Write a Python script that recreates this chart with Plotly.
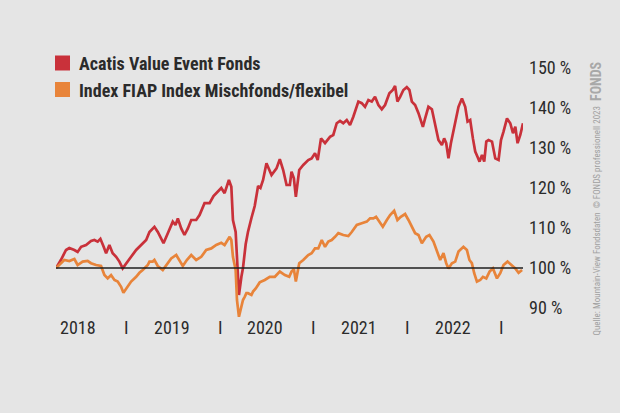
import datetime as dt
import plotly.graph_objects as go

# ---- data (time as decimal years, values in % of start) ----
fund_t = [2018.248, 2018.30, 2018.355, 2018.39, 2018.444, 2018.479, 2018.516, 2018.569, 2018.622, 2018.658,
          2018.693, 2018.722, 2018.757, 2018.783, 2018.818, 2018.853, 2018.89, 2018.925, 2018.96, 2018.997,
          2019.05, 2019.104, 2019.139, 2019.174, 2019.211, 2019.246, 2019.299, 2019.335, 2019.396, 2019.442,
          2019.495, 2019.524, 2019.549, 2019.585, 2019.62, 2019.656, 2019.692, 2019.745, 2019.781, 2019.834,
          2019.888, 2019.93, 2019.976, 2020.013, 2020.048, 2020.094, 2020.12, 2020.137, 2020.166, 2020.19,
          2020.201, 2020.227, 2020.244, 2020.273, 2020.297, 2020.334, 2020.369, 2020.405, 2020.43,
          2020.458, 2020.494, 2020.548, 2020.601, 2020.636, 2020.672, 2020.708, 2020.743, 2020.761, 2020.786,
          2020.807, 2020.843, 2020.886, 2020.939, 2020.975, 2021.011, 2021.04, 2021.075, 2021.118, 2021.171,
          2021.206, 2021.243, 2021.278, 2021.313, 2021.35, 2021.385, 2021.42, 2021.474, 2021.51, 2021.545,
          2021.581, 2021.617, 2021.652, 2021.688, 2021.724, 2021.759, 2021.805, 2021.842, 2021.866, 2021.891,
          2021.92, 2021.955, 2021.991, 2022.019, 2022.045, 2022.08, 2022.116, 2022.163, 2022.187, 2022.222,
          2022.259, 2022.294, 2022.329, 2022.366, 2022.39, 2022.412, 2022.436, 2022.462, 2022.49, 2022.508,
          2022.543, 2022.58, 2022.615, 2022.64, 2022.668, 2022.697, 2022.722, 2022.746, 2022.768, 2022.794,
          2022.818, 2022.84, 2022.864, 2022.901, 2022.936, 2022.971, 2022.997, 2023.024, 2023.061, 2023.096,
          2023.125, 2023.15, 2023.174, 2023.203, 2023.232]
fund_v = [100, 102, 104.5, 105, 104.5, 104, 105.3, 105.75, 106.75, 107,
          106.6, 107.3, 105.3, 103.7, 105.75, 103.7, 102.8, 101.6, 99.9, 101.2,
          102.8, 104.5, 105.25, 106.2, 107, 109, 110.3, 109, 106.2, 108.7,
          111.6, 110.75, 112.4, 109.9, 108.25, 109.9, 112, 112, 113.25, 116.2,
          116.2, 118, 119.1, 120, 118.7, 122, 120.3, 112, 109, 99.5,
          93.25, 97.8, 100, 106, 109, 112.5, 115.5, 120.5, 120,
          122, 126.2, 123.25, 124.9, 127.2, 124.5, 120.75, 120.75, 124.1, 122.4,
          117.8, 124.5, 125.75, 127, 127.4, 128.7, 127, 132.4, 131.2, 132.8,
          133.25, 136.2, 136.8, 136.2, 137, 135.75, 137.8, 141.6, 141.2, 140.3,
          142, 141.6, 142.8, 140.75, 139.7, 140.75, 143.7, 144.5, 145.5, 141.6,
          142.8, 144.5, 145.2, 144.5, 141.6, 140.75, 138.7, 135.3, 137.4, 140.3,
          139.7, 135.75, 132, 130.75, 132.4, 131.2, 127.4, 131.2, 134.5, 136.6,
          140.3, 142.4, 140.3, 136.6, 137, 132.4, 129.1, 127.8, 126.6, 128.25,
          126.6, 131.6, 132, 131.6, 127.4, 127, 132, 134.1, 137.4, 136.2,
          133.7, 135.3, 131.2, 133.25, 136.2]

index_t = [2018.248, 2018.30, 2018.337, 2018.39, 2018.444, 2018.479, 2018.533, 2018.586, 2018.622, 2018.676,
           2018.729, 2018.765, 2018.80, 2018.836, 2018.872, 2018.907, 2018.943, 2018.968, 2019.003, 2019.05,
           2019.104, 2019.139, 2019.174, 2019.228, 2019.246, 2019.281, 2019.299, 2019.335, 2019.388, 2019.43,
           2019.478, 2019.532, 2019.567, 2019.602, 2019.645, 2019.692, 2019.745, 2019.799, 2019.852, 2019.906,
           2019.959, 2020.013, 2020.048, 2020.102, 2020.12, 2020.137, 2020.166, 2020.18, 2020.201, 2020.227,
           2020.244, 2020.262, 2020.28, 2020.297, 2020.334, 2020.351, 2020.38, 2020.422, 2020.476, 2020.529,
           2020.583, 2020.636, 2020.69, 2020.736, 2020.761, 2020.786, 2020.807, 2020.843, 2020.886, 2020.939,
           2020.975, 2021.011, 2021.046, 2021.083, 2021.118, 2021.153, 2021.189, 2021.225, 2021.26, 2021.313,
           2021.367, 2021.403, 2021.457, 2021.51, 2021.564, 2021.599, 2021.634, 2021.663, 2021.698, 2021.735,
           2021.778, 2021.813, 2021.856, 2021.891, 2021.927, 2021.973, 2022.009, 2022.045, 2022.08, 2022.116,
           2022.152, 2022.198, 2022.233, 2022.276, 2022.312, 2022.348, 2022.383, 2022.412, 2022.436, 2022.473,
           2022.508, 2022.543, 2022.596, 2022.633, 2022.66, 2022.686, 2022.711, 2022.74, 2022.775, 2022.804,
           2022.84, 2022.875, 2022.911, 2022.954, 2022.989, 2023.024, 2023.067, 2023.114, 2023.15, 2023.185,
           2023.222]
index_v = [100, 101.2, 102, 101.75, 102.25, 100.75, 101.6, 101.8, 101.2, 100.75,
           100.5, 98.25, 97.4, 98.25, 97, 96.6, 95.3, 93.8, 94.9, 96.6,
           97.8, 98.8, 99.5, 100.75, 101.6, 101.6, 102, 100.5, 99.5, 100.75,
           102.4, 103.25, 102, 100.5, 102, 103.25, 102, 102.8, 104.5, 104.9,
           105.75, 106.3, 105.75, 107.8, 107, 102.8, 99.5, 92, 87.8, 90.3,
           92, 92.8, 93.7, 93.7, 93.25, 94.1, 94.9, 96.4, 97, 97.8,
           97.8, 99.1, 98.25, 97.8, 99.1, 99.7, 96.6, 101.2, 102, 103.25,
           103.7, 104.9, 104.9, 107, 105.3, 106.6, 107, 107.8, 108.7, 108.25,
           108, 109, 110.75, 111.2, 111.6, 112.4, 112.4, 112.8, 111.6, 110.3,
           112, 113.25, 114.3, 112, 112.8, 113.5, 112, 110.3, 108.7, 108.25,
           106.2, 107.8, 108.25, 106.6, 104.5, 102, 103.7, 101.2, 99.9, 101.2,
           101.6, 104.1, 105.3, 104.5, 102, 101.2, 98.7, 96.6, 97, 97.8,
           97.4, 99.1, 99.9, 97.4, 98.7, 100.75, 101.6, 100.75, 99.9, 98.8,
           99.5]

series_names = ["Acatis Value Event Fonds", "Index FIAP Index Mischfonds/flexibel"]
series_colors = ["#c9313a", "#e8843a"]
y_ticks = [90, 100, 110, 120, 130, 140, 150]
years = [2018, 2019, 2020, 2021, 2022]
separators = [2019, 2020, 2021, 2022, 2023]
source_text = "Quelle: Mountain-View Fondsdaten  © FONDS professionell 2023"


def to_date(t):
    y = int(t)
    start = dt.datetime(y, 1, 1)
    days = (dt.datetime(y + 1, 1, 1) - start).days
    return start + dt.timedelta(days=(t - y) * days)


BG = "#e5e5e5"
FONT = "Roboto Condensed, Liberation Sans Narrow, DejaVu Sans Condensed, sans-serif"
TXT = "#2b2b2b"

# figure geometry (px)
W, H = 620, 413
ML, MR, MT, MB = 56, 97, 60, 93
PW, PH = W - ML - MR, H - MT - MB


def px_x(x):
    return (x - ML) / PW


def px_y(y):
    return (H - MB - y) / PH


fig = go.Figure()
for t, v, name, col in [(fund_t, fund_v, series_names[0], series_colors[0]),
                        (index_t, index_v, series_names[1], series_colors[1])]:
    fig.add_trace(go.Scatter(x=[to_date(a) for a in t], y=v, mode="lines", name=name,
                             line=dict(color=col, width=2.7), showlegend=False, hoverinfo="skip"))

# baseline at 100 %
fig.add_shape(type="line", xref="x", yref="y",
              x0=to_date(fund_t[0]), x1=to_date(fund_t[-1]), y0=100, y1=100,
              line=dict(color="#1e1e1e", width=1.5), layer="above")

fig.update_layout(
    width=W, height=H,
    paper_bgcolor=BG, plot_bgcolor=BG,
    margin=dict(l=ML, r=MR, t=MT, b=MB),
    font=dict(family=FONT, color=TXT),
    xaxis=dict(range=[to_date(fund_t[0]), to_date(fund_t[-1])], showgrid=False, zeroline=False,
               showline=False, showticklabels=False, ticks=""),
    yaxis=dict(range=[87, 152], side="right", showgrid=False, zeroline=False, showline=False,
               tickmode="array", tickvals=y_ticks, ticktext=[f"{v} %" for v in y_ticks],
               ticks="", ticklabelstandoff=5, tickfont=dict(size=18, family=FONT, color=TXT)),
)

# year labels and separators
for y in years:
    fig.add_annotation(xref="x", yref="paper", x=dt.datetime(y, 6, 26), y=px_y(327),
                       xanchor="center", yanchor="middle", showarrow=False, text=str(y),
                       font=dict(size=18, family=FONT, color=TXT))
for y in separators:
    fig.add_annotation(xref="x", yref="paper", x=dt.datetime(y, 1, 1), y=px_y(327),
                       xanchor="center", yanchor="middle", showarrow=False, text="I",
                       font=dict(size=18, family=FONT, color=TXT))

# legend (squares + labels)
for i, (name, col) in enumerate(zip(series_names, series_colors)):
    yc = 63 + 26.5 * i
    fig.add_shape(type="rect", xref="paper", yref="paper",
                  x0=px_x(55), x1=px_x(70), y0=px_y(yc + 7.5), y1=px_y(yc - 7.5),
                  line=dict(width=0), fillcolor=col)
    fig.add_annotation(xref="paper", yref="paper", x=px_x(77), y=px_y(yc + 1),
                       xanchor="left", yanchor="middle", showarrow=False, text=name,
                       font=dict(size=18, family=FONT, color=TXT, weight="bold"))

# vertical source note and logo
fig.add_annotation(xref="paper", yref="paper", x=px_x(596), y=px_y(338),
                   xanchor="center", yanchor="bottom", textangle=-90, showarrow=False,
                   text=source_text, font=dict(size=9, family=FONT, color="#a0a0a0"))
fig.add_annotation(xref="paper", yref="paper", x=px_x(596), y=px_y(103),
                   xanchor="center", yanchor="bottom", textangle=-90, showarrow=False,
                   text="FONDS", font=dict(size=14, family=FONT, color="#a8a8a8", weight="bold"))

fig.write_html("out.html", config={"displayModeBar": False},
               post_script="document.body.style.margin='0px';")
